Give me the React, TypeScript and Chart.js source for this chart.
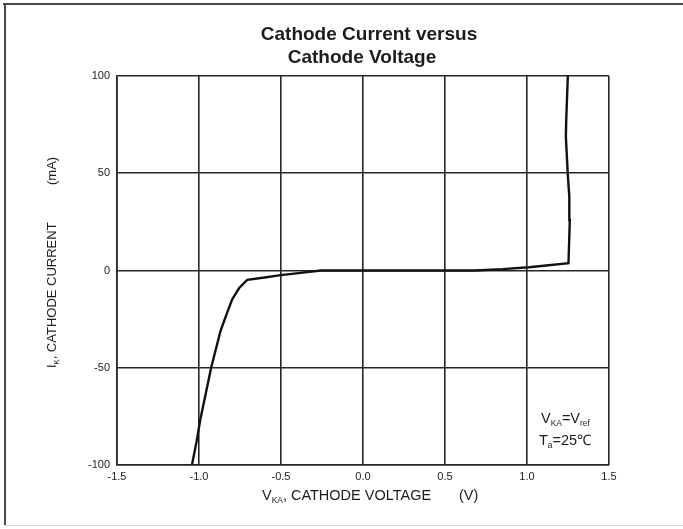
import React, { useEffect, useRef } from 'react';
import { Chart, registerables } from 'chart.js';

Chart.register(...registerables);

// Cathode voltage V_KA (V) and cathode current I_K (mA)
const voltage = [-1.043, -1.015, -0.992, -0.958, -0.926, -0.869, -0.83, -0.798, -0.755, -0.706, -0.6, -0.502, -0.38, -0.257, 0.0, 0.4, 0.682, 0.85, 1.014, 1.253, 1.261, 1.258, 1.249, 1.237, 1.239, 1.249];
const current = [-100, -88, -76.6, -63, -50, -31.1, -22, -14.9, -9, -4.8, -3.6, -2.4, -1.2, 0, 0, 0, 0, 0.7, 1.7, 3.8, 26, 38, 49, 68.6, 77, 100];

const xTickLabels = ['-1.5', '-1.0', '-0.5', '0.0', '0.5', '1.0', '1.5'];
const yTickLabels = ['-100', '-50', '0', '50', '100'];

const titleLines = ['Cathode Current versus', 'Cathode Voltage'];

const FONT = '"Liberation Sans", Arial, Helvetica, sans-serif';
const INK = '#1c1c1c';

type Part = { t: string; sub?: boolean };

function drawParts(ctx: CanvasRenderingContext2D, parts: Part[], x: number, y: number, size: number) {
  let cx = x;
  for (const p of parts) {
    const s = p.sub ? size * 0.58 : size;
    ctx.font = `${s}px ${FONT}`;
    ctx.fillText(p.t, cx, p.sub ? y + size * 0.22 : y);
    cx += ctx.measureText(p.t).width;
  }
  return cx;
}

const decorPlugin = {
  id: 'decor',
  beforeDraw(chart: any) {
    const ctx: CanvasRenderingContext2D = chart.ctx;
    ctx.save();
    ctx.fillStyle = '#ffffff';
    ctx.fillRect(0, 0, chart.width, chart.height);
    // page frame
    ctx.fillStyle = '#4a4a4a';
    ctx.fillRect(3, 3, chart.width - 3, 2);
    ctx.fillRect(4, 3, 2, 523);
    ctx.fillStyle = '#d8d8d8';
    ctx.fillRect(4, 525, chart.width - 4, 1);
    ctx.restore();
  },
  afterDraw(chart: any) {
    const ctx: CanvasRenderingContext2D = chart.ctx;
    ctx.save();
    ctx.fillStyle = INK;
    ctx.textBaseline = 'alphabetic';
    // Title
    ctx.textAlign = 'center';
    ctx.font = `bold 19px ${FONT}`;
    ctx.fillText(titleLines[0], 369, 40);
    ctx.fillText(titleLines[1], 362, 63);
    ctx.textAlign = 'left';

    // X axis title
    const xs = 14.5;
    drawParts(ctx, [{ t: 'V' }, { t: 'KA', sub: true }, { t: ', CATHODE VOLTAGE' }], 262, 500, xs);
    drawParts(ctx, [{ t: '(V)' }], 459, 500, xs);

    // Y axis title (rotated)
    ctx.save();
    ctx.translate(56, 368);
    ctx.rotate(-Math.PI / 2);
    const ys = 13;
    const after = drawParts(ctx, [{ t: 'I' }, { t: 'K', sub: true }, { t: ', ' }], 0, 0, ys);
    drawParts(ctx, [{ t: 'CATHODE CURRENT' }], after, 0, ys);
    drawParts(ctx, [{ t: '(mA)' }], 183, 0, ys);
    ctx.restore();

    // Conditions annotation
    const as = 14.5;
    drawParts(ctx, [{ t: 'V' }, { t: 'KA', sub: true }, { t: '=V' }, { t: 'ref', sub: true }], 541, 423, as);
    drawParts(ctx, [{ t: 'T' }, { t: 'a', sub: true }, { t: '=25℃' }], 539, 445, as);
    ctx.restore();
  },
};

export default function App() {
  const ref = useRef<HTMLCanvasElement | null>(null);

  useEffect(() => {
    if (!ref.current) return;
    const points = voltage.map((v, i) => ({ x: v, y: current[i] }));
    const chart = new Chart(ref.current, {
      type: 'scatter',
      data: {
        datasets: [
          {
            data: points,
            showLine: true,
            borderColor: '#111111',
            borderWidth: 2.4,
            pointRadius: 0,
            tension: 0,
            fill: false,
          },
        ],
      },
      options: {
        responsive: false,
        animation: false,
        devicePixelRatio: 1,
        layout: { padding: { top: 76, right: 74, left: 0, bottom: 0 } },
        plugins: {
          legend: { display: false },
          tooltip: { enabled: false },
          title: { display: false },
        },
        scales: {
          x: {
            type: 'linear',
            min: -1.5,
            max: 1.5,
            afterFit: (s: any) => {
              s.height = 64;
            },
            ticks: {
              stepSize: 0.5,
              autoSkip: false,
              maxRotation: 0,
              padding: 5,
              color: INK,
              font: { family: FONT, size: 11 },
              callback: (_v: any, i: number) => xTickLabels[i],
            },
            grid: { color: '#262626', lineWidth: 1.6, drawTicks: false },
            border: { color: '#262626', width: 1.6 },
          },
          y: {
            type: 'linear',
            min: -100,
            max: 100,
            afterFit: (s: any) => {
              s.width = 117;
            },
            ticks: {
              stepSize: 50,
              autoSkip: false,
              padding: 7,
              color: INK,
              font: { family: FONT, size: 11 },
              callback: (_v: any, i: number) => yTickLabels[i],
            },
            grid: { color: '#262626', lineWidth: 1.6, drawTicks: false },
            border: { color: '#262626', width: 1.6 },
          },
        },
      },
      plugins: [decorPlugin],
    });
    return () => chart.destroy();
  }, []);

  return (
    <div style={{ position: 'fixed', left: 0, top: 0, width: 683, height: 529, background: '#fff' }}>
      <canvas ref={ref} width={683} height={529} style={{ display: 'block', width: 683, height: 529 }} />
    </div>
  );
}
